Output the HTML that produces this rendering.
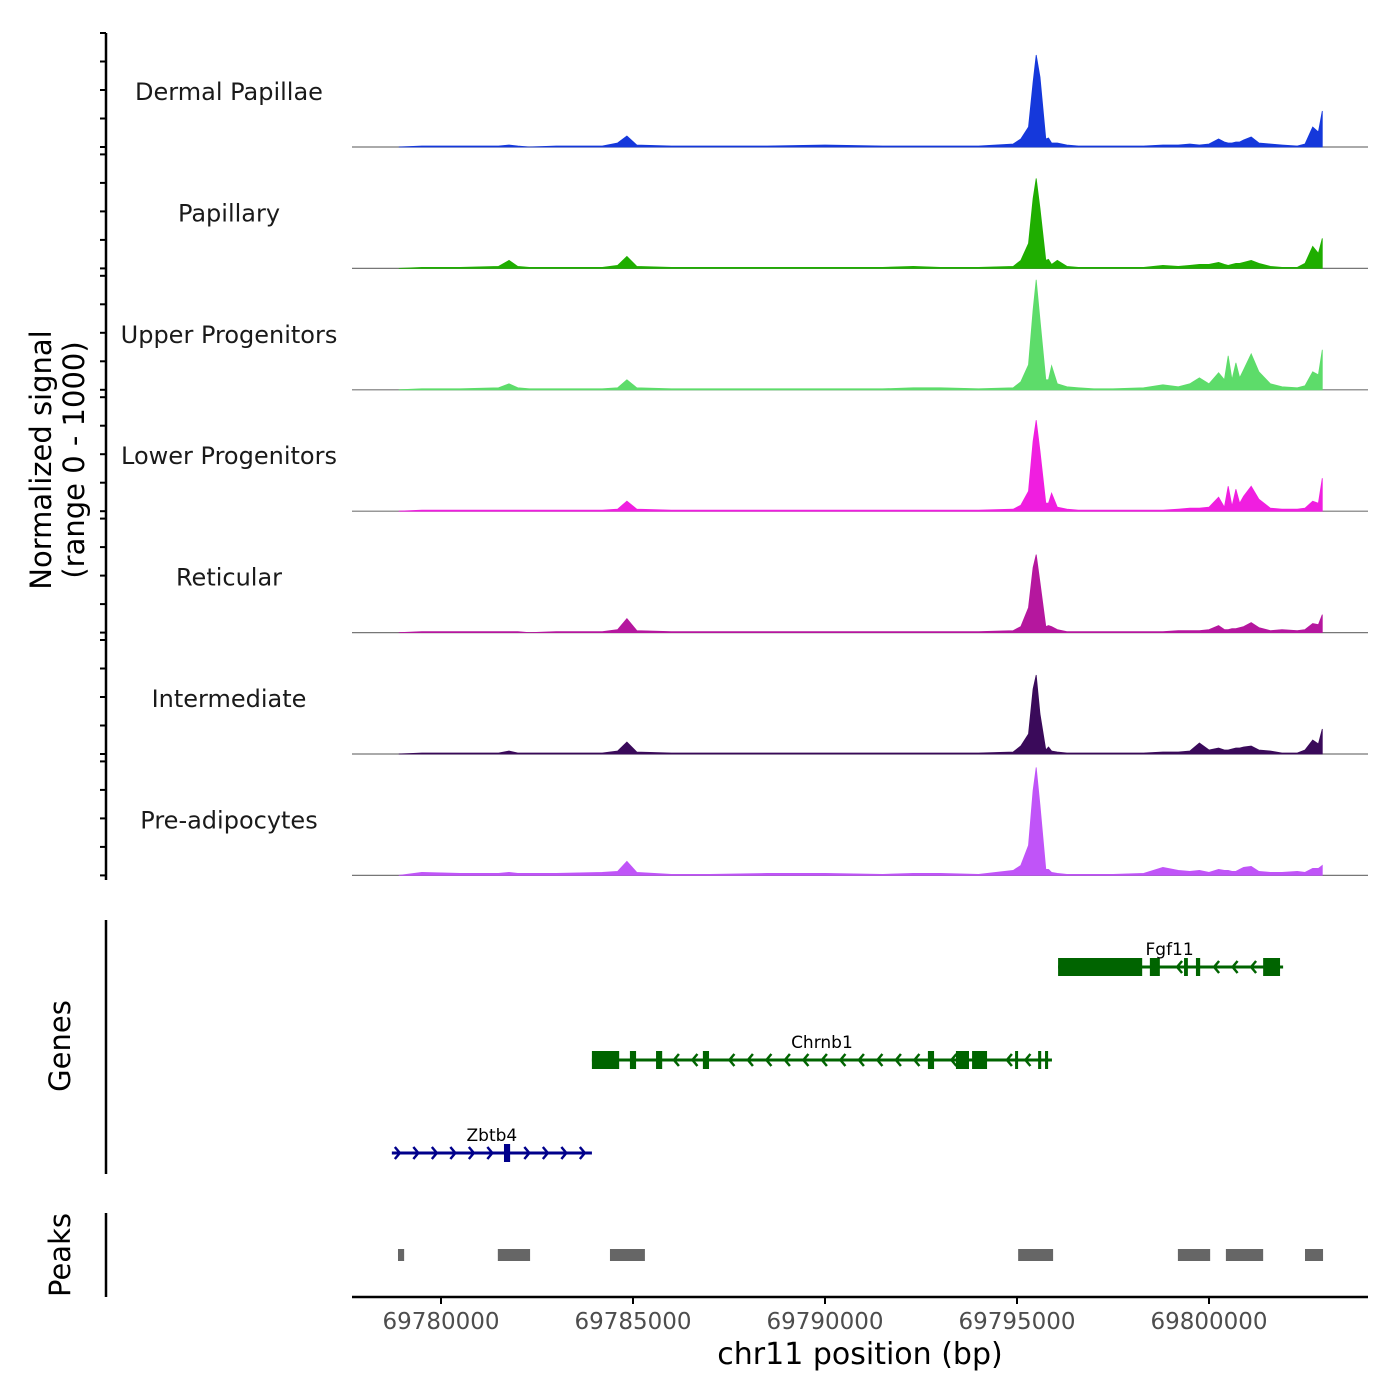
<!DOCTYPE html>
<html><head><meta charset="utf-8"><style>
html,body{margin:0;padding:0;background:#fff;}
svg{display:block;font-family:"DejaVu Sans","Liberation Sans",sans-serif;}
</style></head><body>
<svg id="chart" width="1400" height="1400" viewBox="0 0 1400 1400">
<g id="left"></g>
<g id="tracks"></g>
<g id="genes"></g>
<g id="peaks"></g>
<g id="xaxis"></g>
</svg>
<script>
// ---- data ----
const trackNames = ["Dermal Papillae","Papillary","Upper Progenitors","Lower Progenitors","Reticular","Intermediate","Pre-adipocytes"];
const trackColors = ["#1538db","#1fae00","#5ddc6a","#f01ee0","#b5179e","#3a0a5a","#c054f8"];
const positionsKb = [69778.9,69779.5,69780.5,69781.5,69781.77,69782.0,69782.3,69783.0,69784.2,69784.6,69784.84,69785.1,69786.0,69787.0,69788.5,69790.0,69791.5,69792.3,69793.0,69794.0,69794.9,69795.1,69795.3,69795.42,69795.5,69795.6,69795.75,69795.82,69795.9,69796.05,69796.3,69796.6,69797.0,69797.5,69798.3,69798.8,69799.2,69799.5,69799.75,69800.0,69800.25,69800.4,69800.5,69800.6,69800.7,69800.8,69800.9,69801.1,69801.3,69801.6,69801.9,69802.3,69802.5,69802.7,69802.85,69802.95];
const dermalValues = [0,1,1,1,2,1,0,1,1,4,11,2,1,1,1,2,1,1,1,1,3,8,20,65,92,70,8,9,4,4,2,1,1,1,1,2,2,3,2,3,8,5,4,4,5,5,7,10,4,3,2,1,3,20,15,36];
const papillaryValues = [0,1,1,2,8,2,1,1,1,3,12,2,1,1,1,1,1,2,1,1,2,8,25,70,90,60,8,9,4,8,2,1,1,1,1,3,2,3,4,4,6,4,3,4,5,5,6,8,5,2,1,1,5,22,15,30];
const upperValues = [0,1,1,2,6,2,1,1,1,2,10,2,1,1,1,1,1,2,2,1,2,8,25,80,110,70,10,10,24,6,3,2,1,1,2,5,3,6,12,6,17,10,34,10,27,12,20,36,18,6,3,2,4,18,15,40];
const lowerValues = [0,1,1,1,1,1,1,1,1,2,10,2,1,1,1,1,1,1,1,1,2,6,20,70,91,60,8,8,18,4,2,1,1,1,1,1,2,3,3,4,14,4,25,5,22,8,15,25,12,3,2,2,3,10,8,33];
const reticularValues = [0,1,1,1,1,1,0,1,1,3,14,2,1,1,1,1,1,1,1,1,2,6,25,65,78,50,6,7,6,3,1,1,1,1,1,1,2,2,2,3,7,3,3,4,4,5,6,10,5,2,3,2,3,9,8,18];
const intermediateValues = [0,1,1,1,3,1,1,1,1,3,12,2,1,1,1,1,1,1,1,1,2,8,20,65,79,40,4,7,3,2,1,1,1,1,1,2,2,3,11,4,6,4,4,5,6,6,7,8,4,3,1,1,4,14,10,25];
const preadipoValues = [0,3,2,2,3,2,2,2,3,4,14,3,1,1,2,2,1,2,2,1,5,10,30,85,108,70,6,6,3,2,1,1,1,1,2,8,5,4,5,3,6,5,5,4,4,6,8,9,4,3,3,4,3,7,7,10];
const allValues = [dermalValues,papillaryValues,upperValues,lowerValues,reticularValues,intermediateValues,preadipoValues];
const xTicks = [69780000,69785000,69790000,69795000,69800000];
const xTickLabels = ["69780000","69785000","69790000","69795000","69800000"];
const geneNames = ["Fgf11","Chrnb1","Zbtb4"];
const geneStarts = [69796.07,69783.93,69778.72];
const geneEnds = [69801.93,69795.91,69783.93];
const geneStrands = ["-","-","+"];
const geneExons = [
  [[69796.07,69798.26],[69798.46,69798.72],[69799.35,69799.45],[69799.66,69799.77],[69801.41,69801.85]],
  [[69783.93,69784.64],[69784.92,69785.08],[69785.60,69785.76],[69786.82,69786.98],[69792.68,69792.84],[69793.41,69793.75],[69793.83,69794.22],[69794.95,69795.00],[69795.55,69795.63],[69795.73,69795.81]],
  [[69781.64,69781.80]]
];
const peakStarts = [69778.88,69781.48,69784.40,69795.03,69799.19,69800.44,69802.50];
const peakEnds = [69779.04,69782.32,69785.31,69795.94,69800.03,69801.41,69802.97];

// ---- scales ----
const NS="http://www.w3.org/2000/svg";
function mk(tag,attrs,parent){const e=document.createElementNS(NS,tag);for(const k in attrs)e.setAttribute(k,attrs[k]);parent.appendChild(e);return e;}
const xKb = kb => 441 + (kb-69780)*38.4;
const xBp = bp => xKb(bp/1000);
const panelH = 121.4, firstBase = 147, trackH = 114, yMaxSignal = 114;
const baseY = i => firstBase + i*panelH;
const yScale = (i,v) => baseY(i) - v/yMaxSignal*trackH;

// ---- left axis ----
const left=document.getElementById('left');
let ax=mk('line',{x1:106,y1:33,x2:106,y2:880,stroke:'#000','stroke-width':2.5},left);


for(let i=0;i<7;i++){for(let k=0;k<5;k++){const y=baseY(i)-k*trackH/4;
 const t=mk('line',{x1:100,y1:y,x2:106,y2:y,stroke:'#000','stroke-width':2},left);
 
 }}
const yt=mk('text',{transform:'translate(51,460) rotate(-90)','text-anchor':'middle','font-size':29,fill:'#000'},left);


mk('tspan',{x:0,dy:0},yt).textContent='Normalized signal';
mk('tspan',{x:0,dy:33},yt).textContent='(range 0 - 1000)';

// ---- tracks ----
const tracks=document.getElementById('tracks');
for(let i=0;i<7;i++){
 const g=mk('g',{},tracks);
 
 
 const lab=mk('text',{x:229,y:baseY(i)-47,'text-anchor':'middle','font-size':24,fill:'#1a1a1a'},g);
 lab.textContent=trackNames[i];
 
 
 const bl=mk('line',{x1:352,y1:baseY(i),x2:1368,y2:baseY(i),stroke:'#777','stroke-width':1.2},g);
 
 
 const vals=allValues[i];
 let d='M'+xKb(positionsKb[0])+','+baseY(i);
 for(let j=0;j<positionsKb.length;j++)d+=' L'+xKb(positionsKb[j]).toFixed(1)+','+yScale(i,vals[j]).toFixed(1);
 d+=' L'+xKb(positionsKb[positionsKb.length-1])+','+baseY(i)+' Z';
 const a=mk('path',{d:d,fill:trackColors[i],stroke:trackColors[i],'stroke-width':0.8},g);
 
 
}

// ---- genes ----
const genes=document.getElementById('genes');
let gl=mk('line',{x1:106,y1:920,x2:106,y2:1174,stroke:'#000','stroke-width':2.5},genes);


let gt=mk('text',{transform:'translate(70,1046) rotate(-90)','text-anchor':'middle','font-size':29},genes);
gt.textContent='Genes';


const geneY=[967,1060,1153], geneCol=["#006400","#006400","#00008b"];
for(let i=0;i<3;i++){
 const g=mk('g',{},genes);
 
 
 const y=geneY[i],c=geneCol[i],x1=xKb(geneStarts[i]),x2=xKb(geneEnds[i]);
 mk('line',{x1:x1,y1:y,x2:x2,y2:y,stroke:c,'stroke-width':3},g);
 for(const e of geneExons[i]){
  const ex=mk('rect',{x:xKb(e[0]),y:y-9,width:Math.max(3,xKb(e[1])-xKb(e[0])),height:18,fill:c},g);
  
  
 }
 const step=18.5;
 for(let x=x1+8;x<=x2;x+=step){
  const inEx=geneExons[i].some(e=>x>=xKb(e[0])-3&&x<=xKb(e[1])+3);
  if(inEx)continue;
  const s=geneStrands[i]==='+'?-1:1;
  mk('polyline',{points:(x+5*s)+','+(y-6)+' '+x+','+y+' '+(x+5*s)+','+(y+6),fill:'none',stroke:c,'stroke-width':2.5},g);
 }
 const lab=mk('text',{x:(x1+x2)/2+(i==0?-1:0),y:y-12,'text-anchor':'middle','font-size':17,fill:'#000'},g);
 lab.textContent=geneNames[i];
 
 
}

// ---- peaks ----
const peaks=document.getElementById('peaks');
let pl=mk('line',{x1:106,y1:1213,x2:106,y2:1297,stroke:'#000','stroke-width':2.5},peaks);


let pt=mk('text',{transform:'translate(70,1255) rotate(-90)','text-anchor':'middle','font-size':29},peaks);
pt.textContent='Peaks';


for(let i=0;i<peakStarts.length;i++){
 const r=mk('rect',{x:xKb(peakStarts[i]),y:1249,width:xKb(peakEnds[i])-xKb(peakStarts[i]),height:12,fill:'#666'},peaks);
 
 
}

// ---- x axis ----
const xa=document.getElementById('xaxis');
let xl=mk('line',{x1:352,y1:1297,x2:1368,y2:1297,stroke:'#000','stroke-width':2.5},xa);


for(let i=0;i<xTicks.length;i++){
 const x=xBp(xTicks[i]);
 const t=mk('line',{x1:x,y1:1297,x2:x,y2:1304,stroke:'#000','stroke-width':2},xa);
 
 
 const l=mk('text',{x:x,y:1329,'text-anchor':'middle','font-size':23,fill:'#4d4d4d'},xa);
 l.textContent=xTickLabels[i];
 
 
}
const xt=mk('text',{x:860,y:1364,'text-anchor':'middle','font-size':30,fill:'#000'},xa);
xt.textContent='chr11 position (bp)';


</script>
</body></html>
